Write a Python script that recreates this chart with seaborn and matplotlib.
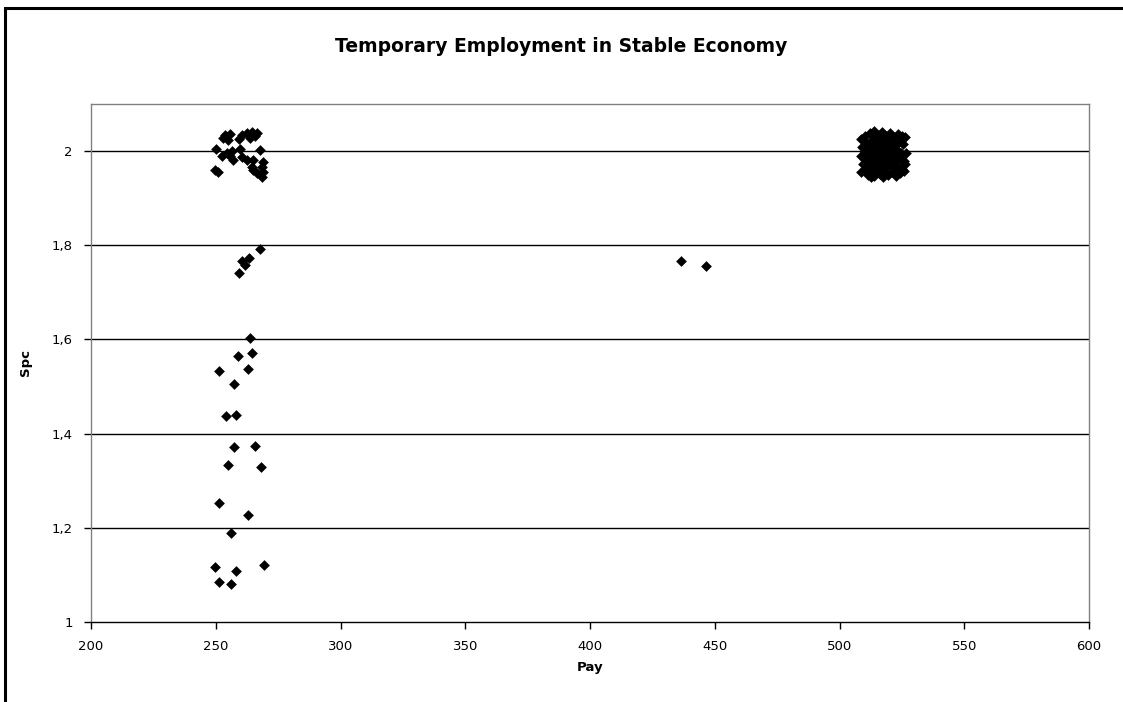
import numpy as np
import pandas as pd
import matplotlib
matplotlib.use("Agg")
import matplotlib.pyplot as plt
from matplotlib.patches import Rectangle
from matplotlib.ticker import FuncFormatter
import seaborn as sns

# ── data ─────────────────────────────────────────────────────────────────────
# low-pay group, upper cluster
low_top_pay = [253.7, 255.7, 255.0, 253.0, 260.4, 262.4, 264.4, 266.4, 263.7, 259.4,
               250.1, 252.4, 254.4, 256.4, 259.7, 260.4, 262.4, 265.0, 267.7, 269.1,
               268.4, 269.1, 268.5, 265.0, 266.4, 264.4, 249.7, 251.0, 257.0, 255.7,
               265.7]
low_top_spc = [2.034, 2.036, 2.023, 2.027, 2.034, 2.039, 2.041, 2.038, 2.027, 2.025,
               2.004, 1.989, 1.995, 2.001, 2.004, 1.988, 1.982, 1.981, 2.002, 1.977,
               1.967, 1.956, 1.946, 1.960, 1.953, 1.967, 1.960, 1.956, 1.981, 1.989,
               2.032]

# low-pay group, scattered tail
low_tail_pay = [267.9, 260.4, 263.5, 261.7, 259.5, 263.7, 259.0, 264.7, 251.2, 262.8,
                257.2, 254.1, 258.0, 257.2, 265.9, 255.0, 268.1, 251.2, 263.1, 256.0,
                249.8, 258.2, 269.4, 251.3, 256.1]
low_tail_spc = [1.793, 1.767, 1.772, 1.759, 1.742, 1.604, 1.565, 1.572, 1.532, 1.537,
                1.505, 1.437, 1.440, 1.371, 1.374, 1.334, 1.330, 1.253, 1.228, 1.190,
                1.117, 1.108, 1.122, 1.085, 1.081]

# middle outliers
mid_pay = [436.5, 446.5]
mid_spc = [1.766, 1.756]

# high-pay cluster
high_pay = [508.5, 509.2, 508.8, 509.5, 508.6, 510.3, 510.8, 510.1, 511.0, 510.5,
            511.4, 512.2, 512.6, 512.0, 512.9, 512.3, 513.1, 513.8, 514.2, 513.6,
            514.5, 513.9, 514.7, 514.0, 515.5, 515.9, 515.2, 516.1, 515.6, 516.3,
            517.0, 517.4, 516.8, 517.7, 517.1, 517.9, 517.3, 518.6, 519.0, 518.4,
            519.3, 518.7, 519.5, 520.2, 520.6, 520.0, 520.9, 520.3, 521.1, 521.8,
            522.2, 521.6, 522.5, 521.9, 522.7, 523.4, 523.8, 523.2, 524.1, 523.5,
            524.3, 525.0, 525.4, 524.8, 525.7, 525.1, 526.0, 526.3, 526.5, 526.2,
            509.8, 511.7, 514.9, 516.6, 519.8, 522.9, 512.8, 518.2]
high_spc = [2.025, 2.008, 1.990, 1.972, 1.955, 2.031, 2.015, 1.998, 1.982, 1.963,
            1.950, 2.038, 2.021, 2.004, 1.989, 1.970, 1.957, 2.042, 2.027, 2.011,
            1.994, 1.978, 1.962, 1.947, 2.035, 2.018, 2.001, 1.985, 1.968, 1.952,
            2.041, 2.024, 2.007, 1.992, 1.975, 1.958, 1.946, 2.033, 2.016, 1.999,
            1.983, 1.966, 1.950, 2.038, 2.021, 2.005, 1.988, 1.971, 1.955, 2.030,
            2.013, 1.996, 1.979, 1.962, 1.948, 2.036, 2.019, 2.002, 1.986, 1.969,
            1.953, 2.032, 2.015, 1.997, 1.980, 1.963, 1.958, 2.030, 1.995, 1.972,
            2.022, 1.993, 2.005, 1.960, 2.028, 1.990, 1.945, 1.955]

x_ticks = [200, 250, 300, 350, 400, 450, 500, 550, 600]
y_ticks = [1.0, 1.2, 1.4, 1.6, 1.8, 2.0]

df = pd.DataFrame({
    "Pay": low_top_pay + low_tail_pay + mid_pay + high_pay,
    "Spc": low_top_spc + low_tail_spc + mid_spc + high_spc,
})

sns.set_style("white")
plt.rcParams.update({"font.family": "DejaVu Sans", "text.color": "black",
                     "axes.labelcolor": "black"})

fig = plt.figure(figsize=(11.23, 7.02), dpi=100)
ax = fig.add_axes([91 / 1123, 1 - 622 / 702, 998 / 1123, 518 / 702])

sns.scatterplot(data=df, x="Pay", y="Spc", marker="D", color="black",
                s=30, edgecolor="black", linewidth=0, ax=ax, zorder=3)

ax.set_xlim(200, 600)
ax.set_ylim(1.0, 2.1)
ax.set_xticks(x_ticks)
ax.set_yticks(y_ticks)
ax.yaxis.set_major_formatter(FuncFormatter(lambda v, p: f"{v:g}".replace(".", ",")))
for y in y_ticks[1:]:
    ax.axhline(y, color="black", linewidth=1, zorder=1)

for side in ["left", "right", "top"]:
    ax.spines[side].set_color("#808080")
    ax.spines[side].set_linewidth(1)
ax.spines["bottom"].set_color("black")
ax.spines["bottom"].set_linewidth(1)

ax.tick_params(axis="both", direction="out", length=5, width=1, color="black",
               labelsize=9.5, labelcolor="black", pad=8, left=True, bottom=True)
ax.set_xlabel("Pay", fontsize=9.5, fontweight="bold", labelpad=6, color="black")
ax.set_ylabel("Spc", fontsize=9.5, fontweight="bold", labelpad=14, color="black")

fig.text(561 / 1123, 1 - 47 / 702, "Temporary Employment in Stable Economy",
         ha="center", va="center", fontsize=13.5, fontweight="bold", color="black")

# outer chart frame (cut off at right and bottom)
fig.patches.append(Rectangle((5 / 1123, -0.1), 1.2, 1.1 - 8 / 702,
                             transform=fig.transFigure, fill=False,
                             edgecolor="black", linewidth=2.2))

fig.savefig("out.png", dpi=100)
